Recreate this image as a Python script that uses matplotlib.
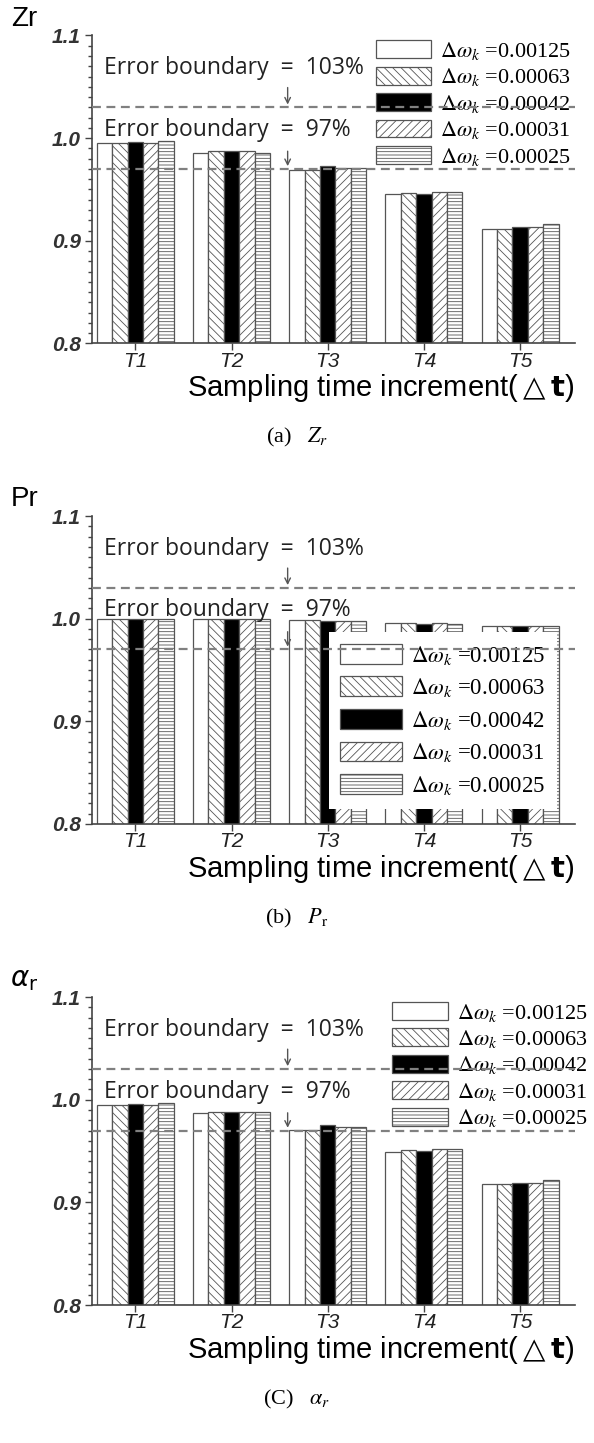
import numpy as np
import matplotlib.pyplot as plt
from matplotlib.ticker import MultipleLocator

plt.rcParams['mathtext.fontset'] = 'stix'
plt.rcParams['hatch.linewidth'] = 0.6
plt.rcParams['hatch.color'] = '#777777'

groups = ['T1', 'T2', 'T3', 'T4', 'T5']
dw_labels = ['0.00125', '0.00063', '0.00042', '0.00031', '0.00025']

# rows: T1..T5, columns: the five delta omega values
zr = np.array([[0.995, 0.995, 0.996, 0.995, 0.997],
               [0.986, 0.987, 0.987, 0.987, 0.986],
               [0.969, 0.969, 0.973, 0.971, 0.971],
               [0.946, 0.947, 0.946, 0.948, 0.948],
               [0.911, 0.911, 0.913, 0.913, 0.916]])
pr = np.array([[1.000, 1.000, 1.000, 1.000, 1.000],
               [1.000, 1.000, 1.000, 1.000, 1.000],
               [0.999, 0.999, 0.998, 0.998, 0.998],
               [0.996, 0.996, 0.995, 0.996, 0.995],
               [0.993, 0.993, 0.993, 0.993, 0.993]])
ar = np.array([[0.995, 0.995, 0.996, 0.995, 0.997],
               [0.987, 0.988, 0.988, 0.988, 0.988],
               [0.971, 0.971, 0.975, 0.973, 0.973],
               [0.949, 0.951, 0.950, 0.952, 0.952],
               [0.918, 0.918, 0.919, 0.919, 0.922]])

bounds = [1.03, 0.97]
bound_texts = ['Error boundary  =  103%', 'Error boundary  =  97%']

hatches = ['', '\\\\\\\\', '', '////', '-----']
fills = ['white', 'white', 'black', 'white', 'white']
sans = ['Liberation Sans', 'DejaVu Sans']


def draw_panel(ax, vals, ylab, leg_kw):
    x = np.arange(1, len(groups) + 1)
    w = 0.16
    for j in range(len(dw_labels)):
        ax.bar(x + (j - 2) * w, vals[:, j], w, color=fills[j], edgecolor='#555555',
               hatch=hatches[j], linewidth=0.9,
               label=r'$\Delta\omega_k$ =' + dw_labels[j])
    for b in bounds:
        ax.axhline(b, ls=(0, (4, 2.5)), color='#808080', lw=1.6, zorder=6)
    tr = ax.get_yaxis_transform()
    ax.text(0.025, 1.068, bound_texts[0], transform=tr,
            fontsize=16.5, family='Open Sans', color='#222222', va='center')
    ax.text(0.025, 1.008, bound_texts[1], transform=tr,
            fontsize=16.5, family='Open Sans', color='#222222', va='center')
    ax.annotate('', xy=(0.405, 1.03), xycoords=tr, xytext=(0.405, 1.052), textcoords=tr,
                arrowprops=dict(arrowstyle='->', color='#555555', lw=1), zorder=7)
    ax.annotate('', xy=(0.405, 0.97), xycoords=tr, xytext=(0.405, 0.99), textcoords=tr,
                arrowprops=dict(arrowstyle='->', color='#555555', lw=1), zorder=7)

    ax.set_ylim(0.8, 1.1)
    ax.set_xlim(0.55, 5.57)
    ax.set_yticks([0.8, 0.9, 1.0, 1.1])
    ax.set_yticklabels(['0.8', '0.9', '1.0', '1.1'], fontsize=15, style='italic',
                       weight='bold', family=sans, color='#333333')
    ax.yaxis.set_minor_locator(MultipleLocator(0.01))
    ax.set_xticks(x)
    ax.set_xticklabels(groups, fontsize=15, style='italic', family=sans,
                       color='#222222')
    ax.tick_params(axis='y', which='major', length=5, width=1, color='#444444', pad=3)
    ax.tick_params(axis='y', which='minor', length=3, width=1, color='#444444')
    ax.tick_params(axis='x', length=5, width=1, color='#444444', pad=1)
    for s in ['top', 'right']:
        ax.spines[s].set_visible(False)
    for s in ['left', 'bottom']:
        ax.spines[s].set_color('#444444')
        ax.spines[s].set_linewidth(1.2)
    ax.set_xlabel(r'Sampling time increment($\triangle\mathbf{t}$)', fontsize=21,
                  family=sans, math_fontfamily='dejavusans', loc='right', labelpad=1)
    ax.text(-0.14, 1.055, ylab, transform=ax.transAxes, fontsize=20, family=sans,
            math_fontfamily='dejavusans', ha='center', va='center')
    leg = ax.legend(prop={'family': 'Liberation Serif', 'size': leg_kw.pop('size')},
                    handletextpad=0.4, borderaxespad=0, **leg_kw)
    leg.set_zorder(5)
    return leg


fig = plt.figure(figsize=(5.94, 14.43), dpi=100)
ax1 = fig.add_axes([0.155, 0.762, 0.813, 0.2134])
ax2 = fig.add_axes([0.155, 0.429, 0.813, 0.2134])
ax3 = fig.add_axes([0.155, 0.0956, 0.813, 0.2134])

draw_panel(ax1, zr, 'Zr', dict(size=16, loc='upper right', bbox_to_anchor=(1.0, 1.0),
                               frameon=False, handlelength=2.45, handleheight=0.85,
                               labelspacing=0.2, borderpad=0.2))
draw_panel(ax2, pr, 'Pr', dict(size=16.5, loc='lower left', bbox_to_anchor=(0.49, 0.05),
                               frameon=True, fancybox=False, framealpha=1,
                               edgecolor='none', facecolor='white',
                               handlelength=2.7, handleheight=0.95,
                               labelspacing=0.42, borderpad=0.5))
draw_panel(ax3, ar, r'$\alpha_\mathrm{r}$', dict(size=16, loc='upper right',
                                               bbox_to_anchor=(1.035, 1.0), frameon=False,
                                               handlelength=2.5, handleheight=0.85,
                                               labelspacing=0.2, borderpad=0.2))

fig.text(0.5, 1 - 437 / 1443, r'(a)   $Z_r$', fontsize=16, family='Liberation Serif',
         ha='center', va='center')
fig.text(0.5, 1 - 918 / 1443, r'(b)   $P_\mathrm{r}$', fontsize=16, family='Liberation Serif',
         ha='center', va='center')
fig.text(0.5, 1 - 1399 / 1443, r'(C)   $\alpha_r$', fontsize=16, family='Liberation Serif',
         ha='center', va='center')

fig.savefig('out.png', dpi=100)
